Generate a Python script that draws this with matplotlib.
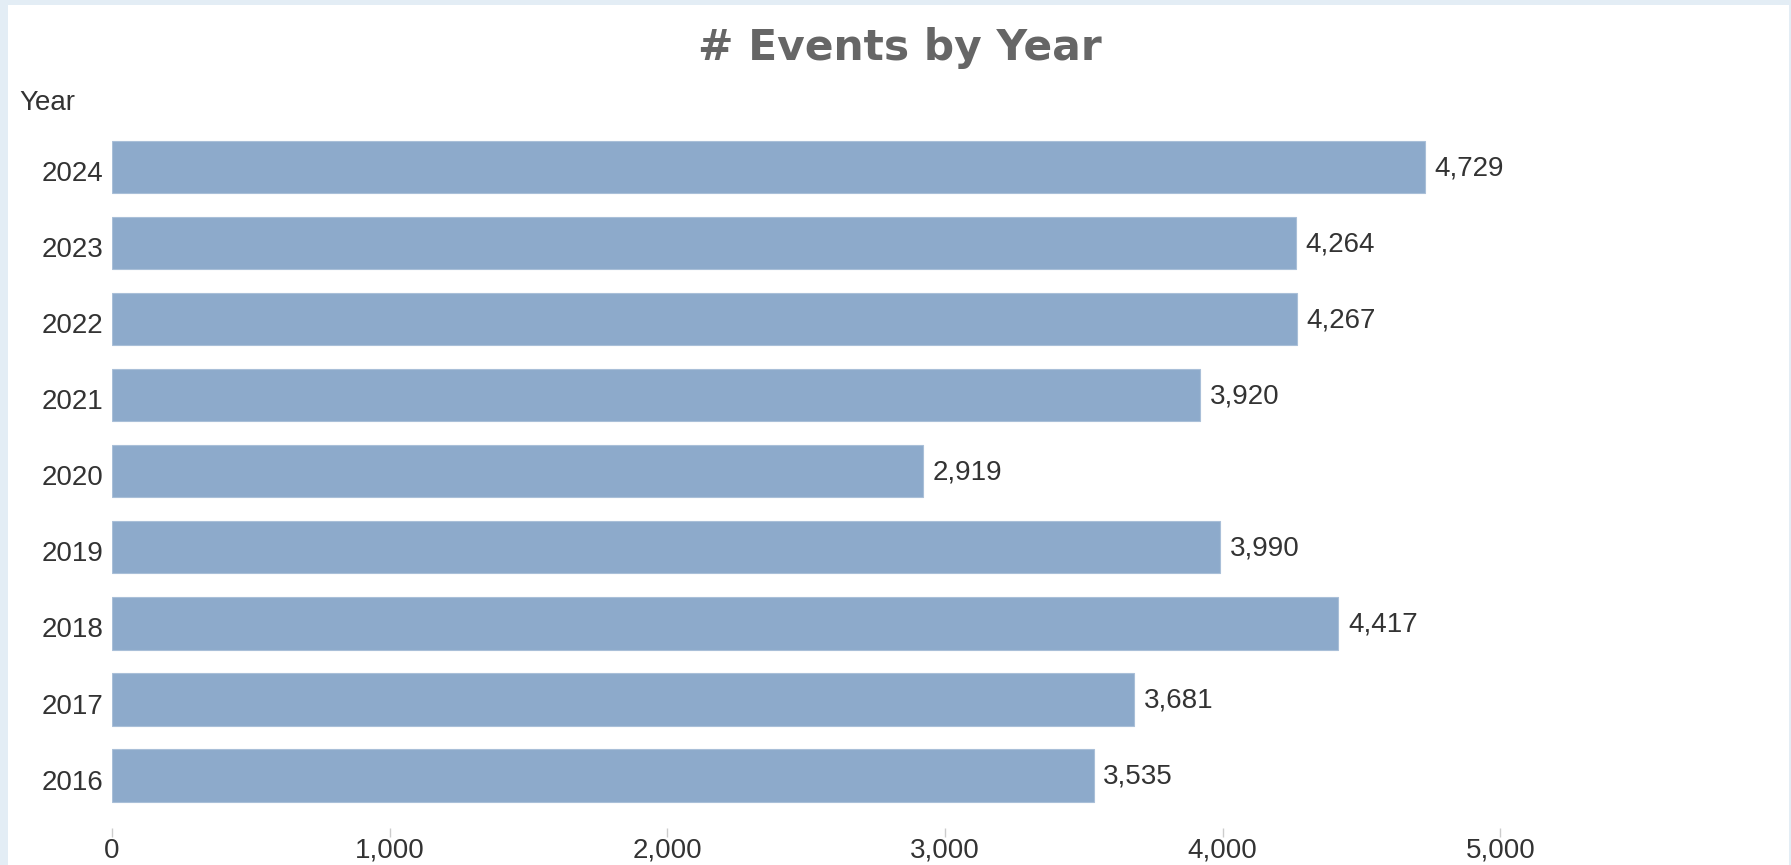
import matplotlib
matplotlib.use("Agg")
import matplotlib.pyplot as plt
from matplotlib.patches import Rectangle
from matplotlib.transforms import ScaledTranslation
import matplotlib.ticker as ticker

# Data
years = ["2016", "2017", "2018", "2019", "2020", "2021", "2022", "2023", "2024"]
events = [3535, 3681, 4417, 3990, 2919, 3920, 4267, 4264, 4729]
x_ticks = [0, 1000, 2000, 3000, 4000, 5000]

BAR_COLOR = "#8DAACB"
TEXT_COLOR = "#333333"
FRAME_COLOR = "#E3EDF5"

W, H, DPI = 1791, 865, 100
plt.rcParams["font.family"] = ["Liberation Sans", "DejaVu Sans"]

fig = plt.figure(figsize=(W / DPI, H / DPI), dpi=DPI, facecolor=FRAME_COLOR)
# white panel inside the light blue frame
fig.patches.append(Rectangle((8 / W, 0), (1789 - 8) / W, (H - 5) / H,
                             transform=fig.transFigure, facecolor="white",
                             edgecolor="none", zorder=-10))

# axes placement in pixels
left_px, right_px = 112, 1778
top_px, bottom_px = 129, 813.4
ax = fig.add_axes([left_px / W, 1 - bottom_px / H,
                   (right_px - left_px) / W, (bottom_px - top_px) / H])
ax.set_facecolor("none")

ypos = list(range(len(years)))
ax.barh(ypos, events, height=0.69, color=BAR_COLOR, edgecolor="#A9BFD8",
        linewidth=0.8)

for y, v in zip(ypos, events):
    ax.annotate(f"{v:,}", xy=(v, y), xytext=(7, -1), textcoords="offset points",
                ha="left", va="center", fontsize=20, color=TEXT_COLOR)

ax.set_xlim(0, 6000)
ax.set_ylim(-0.5, len(years) - 0.5)
ax.set_yticks(ypos)
ax.set_yticklabels(years)
ax.set_xticks(x_ticks)
ax.xaxis.set_major_formatter(ticker.FuncFormatter(lambda v, p: f"{int(v):,}"))

for s in ["top", "right", "left", "bottom"]:
    ax.spines[s].set_visible(False)
ax.spines["bottom"].set_position(("outward", 10.5))

ax.tick_params(axis="y", length=0, pad=6, labelsize=20, labelcolor=TEXT_COLOR)
ax.tick_params(axis="x", length=6.5, width=1, color="#CCCCCC", pad=0.5,
               labelsize=20, labelcolor=TEXT_COLOR)

# year labels sit a touch below the bar centre in the original
shift = ScaledTranslation(0, -3 / 72, fig.dpi_scale_trans)
for lab in ax.get_yticklabels():
    lab.set_transform(lab.get_transform() + shift)

fig.text(19 / W, 1 - 103 / H, "Year", ha="left", va="center",
         fontsize=20, color=TEXT_COLOR)
fig.text(900 / W, 1 - 48 / H, "# Events by Year", ha="center", va="center",
         fontsize=30.5, fontweight="bold", color="#666666",
         family=["DejaVu Sans"])

fig.savefig("out.png", dpi=DPI, facecolor=FRAME_COLOR)
